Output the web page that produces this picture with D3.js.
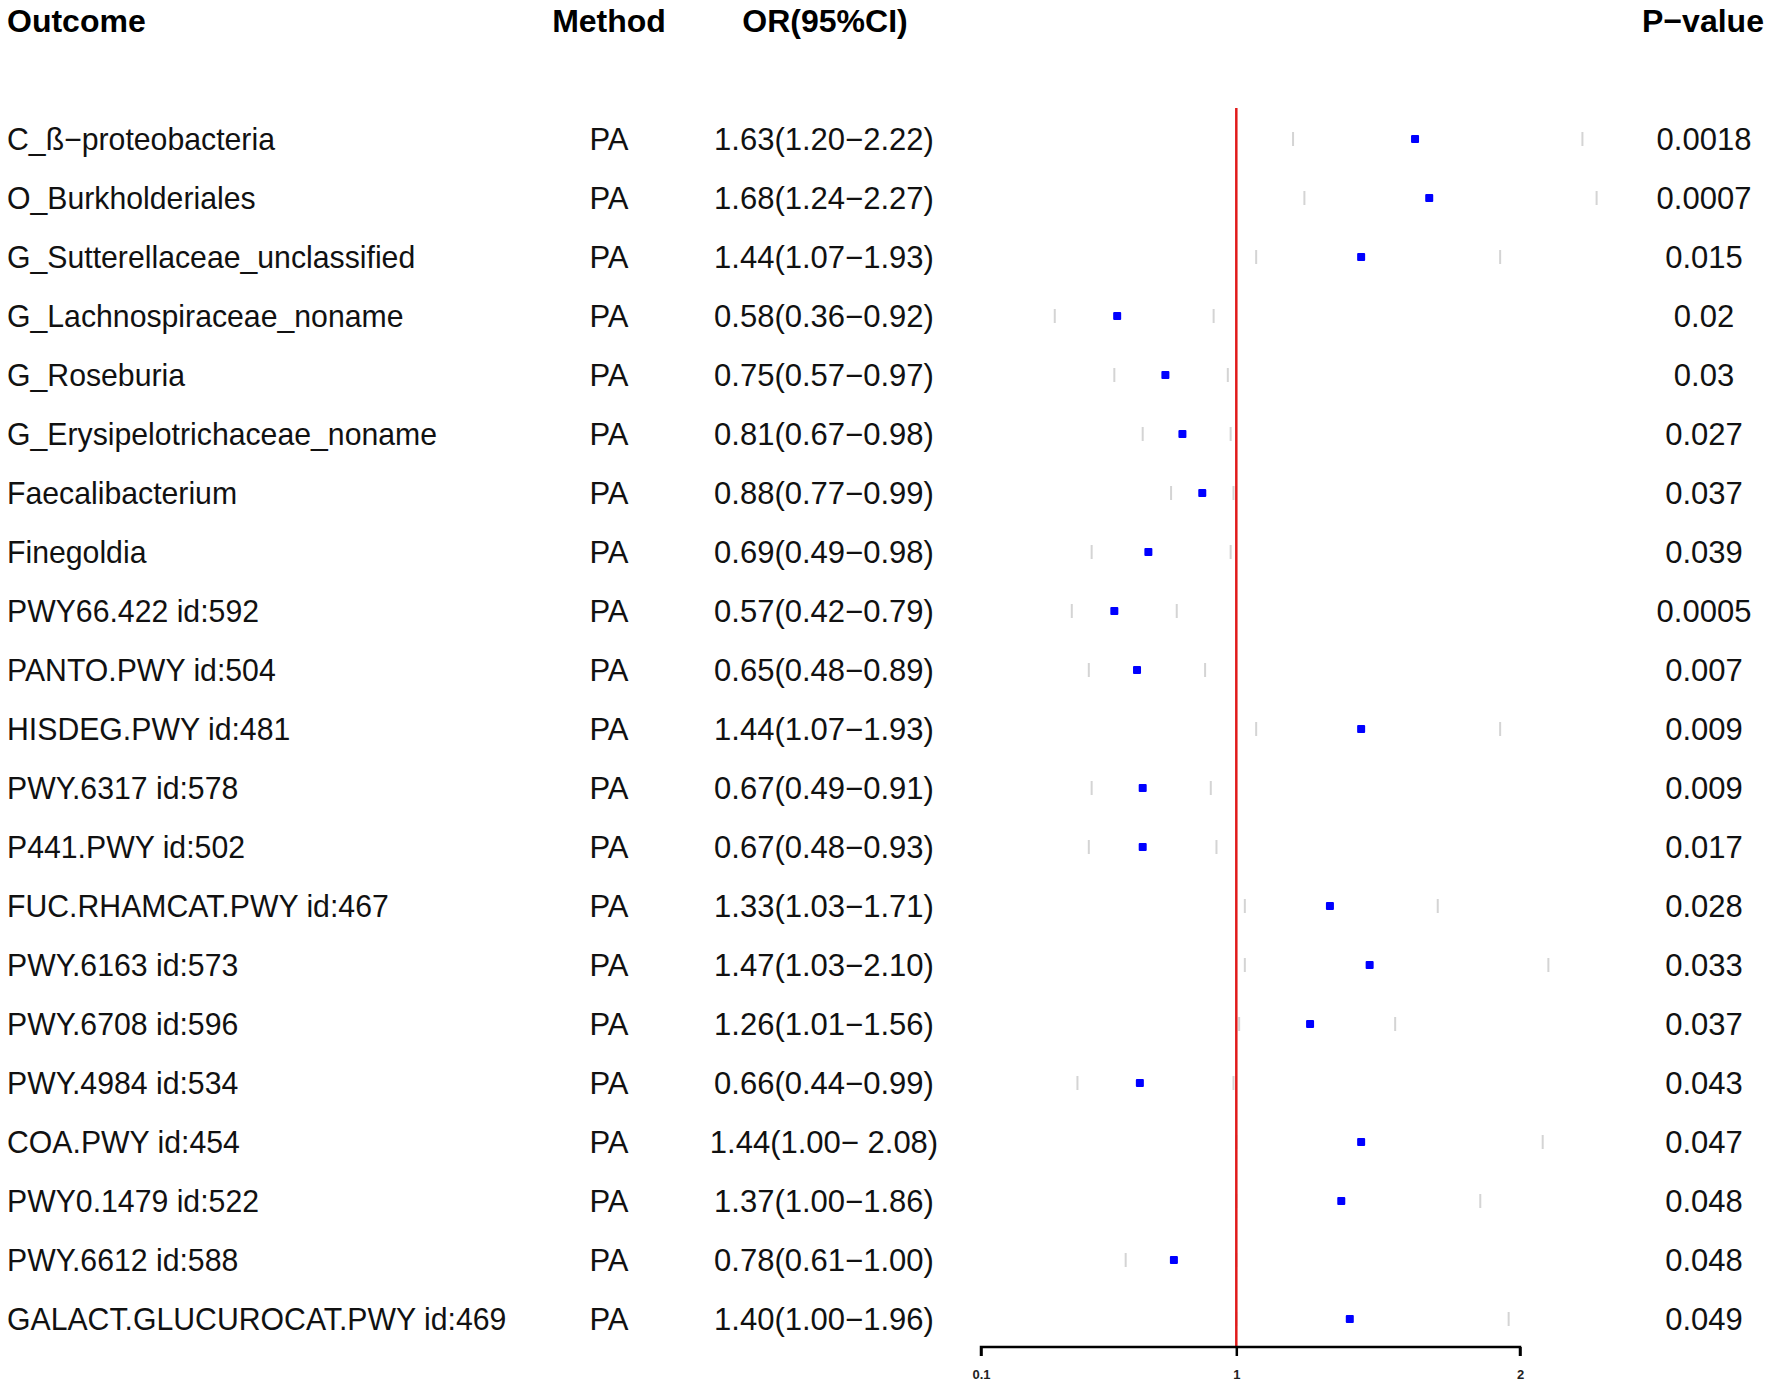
<!DOCTYPE html>
<html lang="en">
<head>
  <meta charset="UTF-8">
  <title>Forest plot</title>
  <script src="https://cdn.jsdelivr.net/npm/d3@7/dist/d3.min.js"></script>
  <style>
    body { margin: 0; background: #fff; }
    text { font-family: "Liberation Sans", Arial, Helvetica, sans-serif; fill: #111; }
    .head { font-weight: bold; font-size: 32px; fill: #000; }
    .cell { font-size: 31px; }
    .tick-label { font-size: 13px; font-weight: bold; fill: #222; }
  </style>
</head>
<body>
  <div id="main" style="width:1772px;height:1391px"></div>
  <script>
    // 数据
    var outcomes = [
      "C_ß−proteobacteria", "O_Burkholderiales", "G_Sutterellaceae_unclassified",
      "G_Lachnospiraceae_noname", "G_Roseburia", "G_Erysipelotrichaceae_noname",
      "Faecalibacterium", "Finegoldia", "PWY66.422 id:592", "PANTO.PWY id:504",
      "HISDEG.PWY id:481", "PWY.6317 id:578", "P441.PWY id:502",
      "FUC.RHAMCAT.PWY id:467", "PWY.6163 id:573", "PWY.6708 id:596",
      "PWY.4984 id:534", "COA.PWY id:454", "PWY0.1479 id:522", "PWY.6612 id:588",
      "GALACT.GLUCUROCAT.PWY id:469"
    ];
    var method = "PA";
    var orMean  = [1.63, 1.68, 1.44, 0.58, 0.75, 0.81, 0.88, 0.69, 0.57, 0.65, 1.44, 0.67, 0.67, 1.33, 1.47, 1.26, 0.66, 1.44, 1.37, 0.78, 1.40];
    var orLower = [1.20, 1.24, 1.07, 0.36, 0.57, 0.67, 0.77, 0.49, 0.42, 0.48, 1.07, 0.49, 0.48, 1.03, 1.03, 1.01, 0.44, 1.00, 1.00, 0.61, 1.00];
    var orUpper = [2.22, 2.27, 1.93, 0.92, 0.97, 0.98, 0.99, 0.98, 0.79, 0.89, 1.93, 0.91, 0.93, 1.71, 2.10, 1.56, 0.99, 2.08, 1.86, 1.00, 1.96];
    var pLabels = ["0.0018", "0.0007", "0.015", "0.02", "0.03", "0.027", "0.037", "0.039", "0.0005", "0.007",
      "0.009", "0.009", "0.017", "0.028", "0.033", "0.037", "0.043", "0.047", "0.048", "0.048", "0.049"];
    var xTicks = [0.1, 1, 2];

    var width = 1772, height = 1391;
    var svg = d3.select("#main").append("svg")
      .attr("width", width)
      .attr("height", height);

    var rows = d3.range(outcomes.length);
    var y = d3.scalePoint().domain(rows).range([139, 1319]);
    var x = d3.scaleLinear().domain([0.1, 2]).range([981, 1520]);
    var fmt = d3.format(".2f");

    // 表头
    var heads = [
      { t: "Outcome", x: 7, a: "start" },
      { t: "Method", x: 609, a: "middle" },
      { t: "OR(95%CI)", x: 825, a: "middle" },
      { t: "P−value", x: 1703, a: "middle" }
    ];
    svg.selectAll(".head").data(heads).enter().append("text")
      .attr("class", "head")
      .attr("x", function (d) { return d.x; })
      .attr("y", 32)
      .attr("text-anchor", function (d) { return d.a; })
      .text(function (d) { return d.t; });

    // 表格文字
    var row = svg.selectAll(".row").data(rows).enter().append("g")
      .attr("class", "row")
      .attr("transform", function (i) { return "translate(0," + y(i) + ")"; });

    row.append("text").attr("class", "cell").attr("dy", "0.36em")
      .attr("transform", "translate(7,0) scale(0.975,1)") // 原图字体略窄
      .text(function (i) { return outcomes[i]; });
    row.append("text").attr("class", "cell").attr("x", 609).attr("dy", "0.36em")
      .attr("text-anchor", "middle").text(method);
    row.append("text").attr("class", "cell").attr("x", 824).attr("dy", "0.36em")
      .attr("text-anchor", "middle")
      .text(function (i) {
        var sep = i === 17 ? "− " : "−"; // 原图这一行多一个空格
        return fmt(orMean[i]) + "(" + fmt(orLower[i]) + sep + fmt(orUpper[i]) + ")";
      });
    row.append("text").attr("class", "cell").attr("x", 1704).attr("dy", "0.36em")
      .attr("text-anchor", "middle").text(function (i) { return pLabels[i]; });

    // 置信区间端点（浅灰）
    var ends = [];
    rows.forEach(function (i) { ends.push({ i: i, v: orLower[i] }, { i: i, v: orUpper[i] }); });
    svg.selectAll(".ci").data(ends).enter().append("line")
      .attr("class", "ci")
      .attr("x1", function (d) { return x(d.v); })
      .attr("x2", function (d) { return x(d.v); })
      .attr("y1", function (d) { return y(d.i) - 7; })
      .attr("y2", function (d) { return y(d.i) + 7; })
      .attr("stroke", "#d4d4d4")
      .attr("stroke-width", 2);

    // 无效线 OR = 1
    svg.append("line")
      .attr("x1", x(1)).attr("x2", x(1))
      .attr("y1", 108).attr("y2", 1347)
      .attr("stroke", "#e01b1b")
      .attr("stroke-width", 2.5);

    // 点估计
    svg.selectAll(".pt").data(rows).enter().append("rect")
      .attr("class", "pt")
      .attr("x", function (i) { return x(orMean[i]) - 4; })
      .attr("y", function (i) { return y(i) - 4; })
      .attr("width", 8).attr("height", 8)
      .attr("rx", 1)
      .attr("fill", "#0000ff");

    // x 轴
    var axis = d3.axisBottom(x).tickValues(xTicks).tickSize(9).tickPadding(14)
      .tickFormat(function (d) { return String(d); });
    var gx = svg.append("g").attr("transform", "translate(0,1347)").call(axis);
    gx.select(".domain").attr("stroke", "#000").attr("stroke-width", 2.5)
      .attr("d", "M" + x(0.1) + ",9V0H" + x(2) + "V9");
    gx.selectAll(".tick line").attr("stroke", "#000").attr("stroke-width", 2.5);
    gx.selectAll(".tick text").attr("class", "tick-label").attr("font-family", null).attr("font-size", null);
  </script>
</body>
</html>
